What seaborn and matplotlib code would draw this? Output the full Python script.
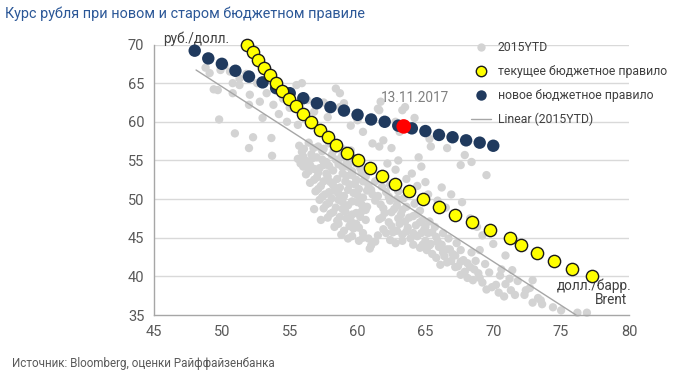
import numpy as np
import pandas as pd
import matplotlib
matplotlib.use("Agg")
import matplotlib.pyplot as plt
import seaborn as sns
from matplotlib.lines import Line2D

# ---------------- data ----------------
# new budget rule (navy)
new_x = [48, 49, 50, 51, 52, 53, 54, 55, 56, 57, 58, 59, 60, 61, 62, 63, 64, 65, 66, 67, 68, 69, 70]
new_y = [69.2, 68.2, 67.5, 66.6, 65.85, 65.1, 64.35, 63.7, 63.05, 62.4, 61.9, 61.45, 60.9, 60.3,
         60.0, 59.5, 59.15, 58.8, 58.3, 58.0, 57.6, 57.3, 56.9]

# current budget rule (yellow)
cur_y = [70, 69, 68, 67, 66, 65, 64, 63, 62, 61, 60, 59, 58, 57, 56, 55, 54, 53, 52, 51, 50,
         49, 48, 47, 46, 45, 44, 43, 42, 41, 40]
cur_x = [51.86, 52.3, 52.66, 53.09, 53.58, 54.02, 54.46, 54.95, 55.44, 55.98, 56.6, 57.2, 57.82,
         58.43, 59.2, 60.02, 60.88, 61.8, 62.75, 63.82, 64.85, 66.03, 67.21, 68.43, 69.78,
         71.23, 72.04, 73.21, 74.49, 75.83, 77.3]

# current point 13.11.2017
today_x = [63.4]
today_y = [59.4]

upper_x = [49.1, 49.9, 50.6, 51.3, 49.7, 49.4, 50.8, 51.3, 50.8, 52.06, 52.8, 52.0, 53.3, 53.8,
           55.5, 55.9, 49.8, 50.96, 52.0, 52.3, 53.65, 53.7, 54.5, 55.0, 54.2, 56.3, 56.8, 50.2,
           51.8, 52.6, 48.8, 53.0, 54.8, 55.6]
upper_y = [66.3, 66.7, 66.5, 65.6, 64.1, 64.2, 65.0, 64.75, 63.7, 63.5, 62.6, 62.2, 63.7, 62.2,
           64.75, 65.0, 60.3, 58.5, 56.6, 58.0, 57.9, 55.6, 63.0, 61.8, 61.0, 62.8, 61.3, 67.3,
           66.2, 65.0, 67.0, 60.5, 60.0, 59.6]

mid_x = [57.5, 58.4, 58.7, 59.0, 58.7, 61.6, 61.7, 63.3, 63.5, 61.5, 63.1, 61.9, 61.6, 62.5,
         61.1, 60.4, 65.3, 65.4, 66.6, 64.5, 67.6, 67.9, 68.4, 69.5, 60.0, 59.5, 62.8, 64.2,
         57.8, 56.5]
mid_y = [62.5, 64.3, 61.9, 62.4, 63.7, 61.5, 62.6, 61.5, 61.9, 61.7, 58.7, 57.6, 56.8, 56.6,
         57.2, 58.7, 57.8, 56.8, 56.6, 55.4, 54.4, 55.7, 54.8, 53.1, 60.2, 59.5, 60.0, 60.5,
         60.6, 59.8]

blob_x = [55.7, 56.4, 57.1, 57.9, 58.6, 55.9, 56.6, 57.4, 58.1, 58.9, 59.5, 55.6, 56.3, 57.0,
          57.7, 58.4, 59.2, 59.8, 56.0, 56.8, 57.5, 58.2, 58.9, 59.6, 60.2, 56.2, 57.0, 57.7,
          58.5, 59.2, 59.9, 60.6, 56.5, 57.3, 58.0, 58.7, 59.4, 60.1, 60.8, 56.9, 57.6, 58.3,
          59.0, 59.7, 60.4, 61.1, 57.2, 57.9, 58.6, 59.3, 60.0, 60.7, 57.5, 58.2, 58.9, 59.6,
          60.3, 57.8, 58.5, 59.2, 59.9, 60.6, 58.3, 59.0, 59.7, 60.4, 59.3, 60.1, 60.8, 61.0,
          56.8, 57.3]
blob_y = [56.9, 57.3, 56.8, 57.2, 56.6, 56.1, 55.8, 56.2, 55.7, 55.9, 56.3, 55.2, 54.9, 55.4,
          54.8, 55.1, 54.7, 55.3, 54.2, 53.9, 54.4, 53.7, 54.1, 53.6, 54.0, 53.2, 52.8, 53.3,
          52.6, 53.0, 52.5, 52.9, 52.1, 51.7, 52.2, 51.5, 51.9, 51.3, 51.8, 51.0, 50.6, 51.1,
          50.4, 50.8, 50.2, 50.6, 49.9, 49.5, 49.9, 49.2, 49.6, 49.0, 48.8, 48.3, 48.7, 48.0,
          48.4, 47.6, 47.2, 47.5, 46.8, 47.3, 46.4, 45.9, 46.2, 45.6, 44.9, 44.6, 44.9, 44.0,
          48.7, 47.3]

blob2_x = [56.05, 56.75, 57.5, 58.25, 59.0, 56.0, 56.7, 57.4, 58.8, 59.6, 55.8, 56.5, 57.2,
           57.9, 58.6, 59.3, 59.9, 56.4, 57.1, 57.8, 58.9, 59.6, 60.3, 56.8, 57.5, 58.2, 59.1,
           59.8, 60.4, 57.1, 57.9, 58.6, 59.3, 60.0, 60.7, 57.4, 58.1, 58.9, 59.6, 60.3, 57.7,
           58.4, 59.1, 59.9, 60.6, 58.0, 58.7, 59.5, 60.2, 58.6, 59.4, 60.1, 58.8, 59.6, 60.4,
           60.9, 61.3]
blob2_y = [56.5, 56.6, 56.5, 56.3, 56.4, 55.5, 55.3, 55.1, 55.4, 55.0, 54.6, 54.4, 54.0,
           54.3, 54.5, 54.2, 54.6, 53.6, 53.4, 52.9, 53.3, 53.1, 53.5, 52.5, 52.3, 51.8, 52.3,
           51.9, 52.3, 51.3, 50.9, 50.7, 51.2, 50.5, 51.1, 50.3, 50.1, 49.6, 49.7, 49.3, 49.3,
           48.9, 48.4, 48.2, 48.6, 48.1, 47.7, 47.2, 47.7, 46.8, 46.5, 46.3, 45.4, 45.2, 45.0,
           43.6, 44.5]

band_x = [61.3, 61.8, 61.5, 62.1, 61.7, 62.4, 62.0, 62.7, 61.6, 62.3, 61.9, 62.6, 61.5,
          63.0, 63.4, 62.9, 63.6, 63.2, 63.8, 63.1, 63.7, 63.3, 63.9, 62.8,
          64.2, 64.6, 64.1, 64.8, 64.3, 64.9, 64.4, 65.0, 64.6, 64.1,
          65.3, 65.7, 65.2, 65.8, 65.4, 66.0, 65.5, 65.1,
          66.3, 66.7, 66.2, 66.8, 66.4, 66.9, 66.1,
          67.3, 67.6, 67.2, 67.8, 67.4, 67.9,
          68.4, 68.7, 68.3, 68.9, 68.5,
          69.4, 69.7, 69.2, 69.9,
          70.5, 70.9, 70.4, 71.3,
          71.8, 72.3, 72.7, 73.3, 73.6, 72.9,
          75.0, 76.2, 76.9, 74.4]
band_y = [52.3, 51.6, 50.4, 50.9, 49.3, 49.8, 48.2, 48.7, 47.4, 47.0, 46.1, 45.7, 45.3,
          51.0, 50.1, 49.2, 49.0, 48.0, 47.6, 46.8, 46.3, 45.4, 44.9, 44.3,
          49.4, 48.5, 47.8, 47.3, 46.6, 46.0, 45.2, 44.6, 43.7, 44.1,
          47.1, 46.4, 45.6, 45.1, 44.2, 43.8, 42.9, 43.4,
          45.6, 44.9, 44.1, 43.5, 42.6, 42.0, 41.5,
          44.3, 43.4, 42.7, 42.1, 41.3, 40.6,
          43.1, 42.0, 41.2, 40.4, 39.5,
          41.6, 40.5, 39.2, 38.6,
          40.1, 39.0, 37.9, 38.2,
          39.4, 37.6, 38.5, 37.2, 36.4, 36.6,
          35.6, 35.3, 35.3, 36.0]

band2_x = [61.0, 62.4, 61.3, 62.3, 62.9, 61.9, 62.5, 63.3, 61.8, 62.5, 63.0, 63.5, 62.1, 62.9,
           63.6, 62.4, 63.3, 64.4, 64.6, 65.0, 64.1, 64.7, 65.5, 64.8, 65.3, 65.9, 66.3, 65.8,
           66.6, 67.0, 66.6, 67.2, 67.6, 68.1, 67.6, 68.6, 68.1, 69.0, 69.5, 70.2, 70.8, 71.6,
           70.6, 71.2]
band2_y = [51.2, 51.8, 49.8, 50.3, 50.0, 48.8, 48.3, 48.6, 47.6, 46.5, 47.5, 47.1, 45.6, 45.9,
           45.8, 44.7, 44.6, 48.1, 47.0, 46.4, 45.6, 45.6, 45.7, 44.1, 44.0, 44.5, 43.1, 42.4,
           43.5, 42.9, 41.8, 41.2, 41.9, 41.7, 40.2, 40.9, 39.8, 39.8, 38.3, 38.9, 37.4, 37.6,
           40.9, 39.7]

right_x = [62.8, 63.6, 64.4, 65.2, 65.9, 66.5, 67.3, 66.9, 67.7, 68.3, 68.8, 69.2, 69.0, 70.0,
           70.9, 71.4, 72.9, 72.4, 73.5, 64.0, 65.0, 66.2, 63.0, 64.7, 62.2]
right_y = [53.8, 52.6, 51.7, 50.6, 49.8, 48.9, 48.1, 50.6, 49.6, 47.5, 46.4, 45.3, 43.4, 44.2,
           42.7, 40.8, 39.5, 38.2, 36.9, 53.3, 52.2, 51.5, 55.0, 54.2, 54.6]

# linear trend of 2015YTD (end points)
trend_x = [48.1, 76.1]
trend_y = [66.7, 35.0]

x_ticks = [45, 50, 55, 60, 65, 70, 75, 80]
y_ticks = [35, 40, 45, 50, 55, 60, 65, 70]

# ---------------- plot ----------------
sns.set_theme(style="white")
plt.rcParams['font.family'] = ['Roboto', 'DejaVu Sans']

fig = plt.figure(figsize=(6.94, 3.81), dpi=100)
ax = fig.add_axes([0.2219, 0.1732, 0.6844, 0.71])

grey = pd.DataFrame({
    "x": upper_x + mid_x + blob_x + blob2_x + band_x + band2_x + right_x,
    "y": upper_y + mid_y + blob_y + blob2_y + band_y + band2_y + right_y,
})
GREY = "#d3d3d3"
NAVY = "#203a5e"

sns.scatterplot(data=grey, x="x", y="y", ax=ax, color=GREY, s=36, edgecolor="none", zorder=2)
sns.lineplot(x=trend_x, y=trend_y, ax=ax, color="#a6a6a6", lw=1.0, zorder=3)
sns.scatterplot(x=new_x, y=new_y, ax=ax, color=NAVY, s=80, edgecolor="none", zorder=4)
sns.scatterplot(x=cur_x, y=cur_y, ax=ax, color="#ffff00", s=78, edgecolor="#1a1a1a",
                linewidth=1.0, zorder=5)
sns.scatterplot(x=today_x, y=today_y, ax=ax, color="#ff0000", s=110, edgecolor="none", zorder=6)
for coll in ax.collections:
    coll.set_clip_on(False)

ax.set_xlim(45, 80)
ax.set_ylim(35, 70)
ax.set_xticks(x_ticks)
ax.set_yticks(y_ticks)
ax.set_xlabel("")
ax.set_ylabel("")
for y in y_ticks[1:]:
    ax.axhline(y, color="#d9d9d9", lw=1.0, zorder=1)

for s in ["top", "right"]:
    ax.spines[s].set_visible(False)
for s in ["left", "bottom"]:
    ax.spines[s].set_color("#a6a6a6")
    ax.spines[s].set_linewidth(1.0)
ax.tick_params(axis="both", which="major", direction="out", length=4, width=1,
               color="#a6a6a6", labelsize=10.5, labelcolor="#595959", pad=3)

ax.text(45.7, 70.7, "руб./долл.", fontsize=9.8, color="#404040", ha="left", va="center")
ax.text(80.2, 38.85, "долл./барр.", fontsize=9.8, color="#404040", ha="right", va="center")
ax.text(79.9, 36.9, "Brent", fontsize=9.8, color="#404040", ha="right", va="center")
ax.text(64.2, 62.2, "13.11.2017", fontsize=9.8, color="#808080", ha="center", va="bottom")

handles = [
    Line2D([], [], ls="none", marker="o", ms=6, mfc=GREY, mec="none"),
    Line2D([], [], ls="none", marker="o", ms=7.5, mfc="#ffff00", mec="#1a1a1a", mew=1.0),
    Line2D([], [], ls="none", marker="o", ms=7.5, mfc=NAVY, mec="none"),
    Line2D([], [], color="#a6a6a6", lw=1.0),
]
labels = ["2015YTD", "текущее бюджетное правило", "новое бюджетное правило", "Linear (2015YTD)"]
ax.legend(handles, labels, loc="upper left", bbox_to_anchor=(0.657, 1.03), frameon=False,
          fontsize=8.8, labelcolor="#404040", handlelength=1.6,
          handletextpad=0.6, labelspacing=0.88, borderaxespad=0)

fig.text(0.007, 0.963, "Курс рубля при новом и старом бюджетном правиле", fontsize=10.4,
         color="#2b5797", ha="left", va="center")
fig.text(0.017, 0.047, "Источник: Bloomberg, оценки Райффайзенбанка", fontsize=8.4,
         color="#595959", ha="left", va="center")

fig.savefig("out.png", dpi=100)
